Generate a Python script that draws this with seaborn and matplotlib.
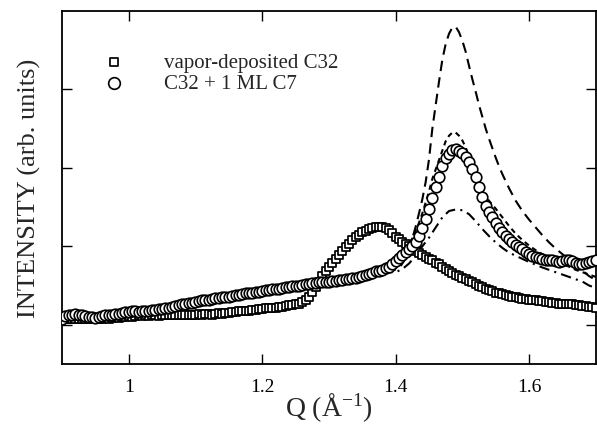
import numpy as np
import pandas as pd
import matplotlib
matplotlib.use("Agg")
import matplotlib.pyplot as plt
import seaborn as sns

# ---------------- data ----------------
q_data = [round(0.900 + 0.005 * i, 3) for i in range(161)]

sq_vals = [
    0.07, 0.08, 0.07, 0.08, 0.08, 0.07, 0.08, 0.07, 0.08, 0.08,
    0.07, 0.08, 0.08, 0.09, 0.08, 0.09, 0.10, 0.09, 0.10, 0.10,
    0.11, 0.10, 0.11, 0.12, 0.11, 0.12, 0.11, 0.12, 0.12, 0.11,
    0.12, 0.13, 0.12, 0.12, 0.13, 0.12, 0.13, 0.13, 0.12, 0.13,
    0.13, 0.14, 0.13, 0.14, 0.14, 0.13, 0.14, 0.15, 0.14, 0.15,
    0.15, 0.16, 0.16, 0.17, 0.17, 0.18, 0.18, 0.19, 0.19, 0.20,
    0.20, 0.21, 0.21, 0.22, 0.22, 0.23, 0.23, 0.24, 0.25, 0.25,
    0.26, 0.27, 0.29, 0.31, 0.36, 0.42, 0.48, 0.55, 0.62, 0.68,
    0.74, 0.79, 0.84, 0.89, 0.94, 0.99, 1.03, 1.08, 1.12, 1.15,
    1.18, 1.20, 1.22, 1.24, 1.25, 1.25, 1.25, 1.23, 1.21, 1.17,
    1.12, 1.09, 1.06, 1.03, 1.00, 0.97, 0.94, 0.92, 0.89, 0.86,
    0.84, 0.82, 0.79, 0.77, 0.74, 0.71, 0.68, 0.66, 0.64, 0.62,
    0.60, 0.58, 0.56, 0.54, 0.52, 0.50, 0.48, 0.46, 0.44, 0.43,
    0.41, 0.40, 0.39, 0.38, 0.37, 0.36, 0.35, 0.34, 0.33, 0.33,
    0.32, 0.32, 0.31, 0.30, 0.30, 0.29, 0.29, 0.28, 0.28, 0.27,
    0.27, 0.27, 0.26, 0.26, 0.25, 0.25, 0.24, 0.24, 0.23, 0.23,
    0.22,
]

circ_vals = [
    0.08, 0.11, 0.12, 0.13, 0.14, 0.13, 0.12, 0.11, 0.10, 0.10,
    0.09, 0.10, 0.11, 0.12, 0.13, 0.13, 0.14, 0.14, 0.15, 0.16,
    0.16, 0.17, 0.17, 0.16, 0.17, 0.18, 0.18, 0.19, 0.19, 0.20,
    0.20, 0.21, 0.22, 0.23, 0.24, 0.25, 0.26, 0.27, 0.28, 0.28,
    0.29, 0.30, 0.31, 0.32, 0.32, 0.33, 0.34, 0.34, 0.35, 0.36,
    0.36, 0.37, 0.38, 0.38, 0.39, 0.40, 0.40, 0.41, 0.42, 0.42,
    0.43, 0.44, 0.44, 0.45, 0.46, 0.46, 0.47, 0.48, 0.48, 0.49,
    0.50, 0.50, 0.51, 0.52, 0.52, 0.53, 0.53, 0.54, 0.54, 0.55,
    0.55, 0.56, 0.56, 0.57, 0.57, 0.58, 0.58, 0.59, 0.60, 0.61,
    0.62, 0.63, 0.65, 0.66, 0.68, 0.69, 0.70, 0.72, 0.74, 0.77,
    0.81, 0.85, 0.89, 0.93, 0.97, 1.01, 1.05, 1.13, 1.24, 1.35,
    1.47, 1.62, 1.76, 1.88, 2.02, 2.12, 2.18, 2.23, 2.24, 2.22,
    2.19, 2.14, 2.07, 1.99, 1.88, 1.76, 1.63, 1.52, 1.44, 1.37,
    1.30, 1.24, 1.18, 1.13, 1.09, 1.05, 1.02, 0.99, 0.96, 0.93,
    0.90, 0.88, 0.86, 0.85, 0.84, 0.83, 0.83, 0.82, 0.81, 0.80,
    0.81, 0.82, 0.83, 0.81, 0.79, 0.77, 0.78, 0.79, 0.80, 0.81,
    0.82,
]

# long-dashed model curve
q_fit_a = [1.385, 1.395, 1.405, 1.410, 1.415, 1.420, 1.425, 1.430, 1.435, 1.440,
           1.445, 1.450, 1.455, 1.460, 1.465, 1.470, 1.475, 1.480, 1.485, 1.490,
           1.495, 1.500, 1.505, 1.510, 1.515, 1.520, 1.525, 1.530, 1.535, 1.540,
           1.545, 1.550, 1.555, 1.560, 1.565, 1.570, 1.575, 1.580, 1.590, 1.600,
           1.610, 1.620, 1.630, 1.640, 1.650, 1.660, 1.670, 1.680, 1.690, 1.700]
fit_a = [0.68, 0.69, 0.72, 0.78, 0.86, 0.96, 1.10, 1.25, 1.42, 1.60,
         1.82, 2.11, 2.50, 2.80, 3.10, 3.38, 3.58, 3.71, 3.79, 3.80,
         3.73, 3.62, 3.48, 3.30, 3.13, 2.97, 2.80, 2.65, 2.50, 2.37,
         2.25, 2.13, 2.02, 1.92, 1.83, 1.74, 1.66, 1.58, 1.45, 1.34,
         1.24, 1.14, 1.05, 0.97, 0.90, 0.83, 0.76, 0.69, 0.62, 0.57]

# short-dashed model curve
q_fit_b = [1.385, 1.395, 1.405, 1.415, 1.425, 1.435, 1.440, 1.445, 1.450, 1.455,
           1.460, 1.465, 1.470, 1.475, 1.480, 1.485, 1.490, 1.495, 1.500, 1.505,
           1.510, 1.515, 1.520, 1.525, 1.530, 1.540, 1.550, 1.560, 1.570, 1.580,
           1.590, 1.600, 1.610, 1.620, 1.630, 1.640, 1.650, 1.660, 1.670, 1.680,
           1.690, 1.700]
fit_b = [0.70, 0.74, 0.84, 0.96, 1.10, 1.30, 1.42, 1.56, 1.70, 1.86,
         1.98, 2.10, 2.22, 2.34, 2.41, 2.45, 2.45, 2.41, 2.35, 2.26,
         2.14, 2.02, 1.91, 1.80, 1.70, 1.58, 1.48, 1.37, 1.26, 1.16,
         1.08, 1.01, 0.95, 0.90, 0.86, 0.82, 0.78, 0.74, 0.70, 0.67,
         0.64, 0.61]

# dash-dot model curve
q_fit_c = [1.380, 1.390, 1.400, 1.410, 1.420, 1.430, 1.440, 1.450, 1.460, 1.470,
           1.480, 1.490, 1.500, 1.510, 1.520, 1.530, 1.540, 1.550, 1.560, 1.570,
           1.580, 1.590, 1.600, 1.620, 1.640, 1.660, 1.680, 1.690, 1.700]
fit_c = [0.69, 0.67, 0.67, 0.71, 0.78, 0.88, 1.00, 1.11, 1.24, 1.37,
         1.45, 1.47, 1.46, 1.41, 1.32, 1.22, 1.13, 1.05, 0.98, 0.92,
         0.88, 0.84, 0.80, 0.73, 0.67, 0.61, 0.55, 0.50, 0.47]

legend_labels = ["vapor-deposited C32", "C32 + 1 ML C7"]
x_ticks = [1.0, 1.2, 1.4, 1.6]
x_tick_labels = ["1", "1.2", "1.4", "1.6"]
y_ticks = [0, 1, 2, 3]

# ---------------- figure ----------------
sns.set_style("ticks")
plt.rcParams["font.family"] = ["Liberation Serif", "DejaVu Serif"]
plt.rcParams["mathtext.fontset"] = "custom"
plt.rcParams["mathtext.rm"] = "Liberation Serif"
plt.rcParams["mathtext.it"] = "Liberation Serif:italic"

fig = plt.figure(figsize=(5.97, 4.27), dpi=100)
ax = fig.add_axes([0.1039, 0.1452, 0.8941, 0.8267])

lw = 1.5
sns.lineplot(x=q_fit_a, y=fit_a, ax=ax, color="black", lw=lw,
             linestyle=(0, (5, 3)), zorder=2, estimator=None, sort=False)
sns.lineplot(x=q_fit_b, y=fit_b, ax=ax, color="black", lw=lw,
             linestyle=(0, (2.5, 2)), zorder=2, estimator=None, sort=False)
sns.lineplot(x=q_fit_c, y=fit_c, ax=ax, color="black", lw=lw,
             linestyle=(0, (5, 2.5, 1, 2.5)), zorder=2, estimator=None, sort=False)

sns.scatterplot(x=q_data, y=sq_vals, ax=ax, marker="s", s=30,
                facecolor="white", edgecolor="black", linewidth=1.25,
                label=legend_labels[0], zorder=3)
sns.scatterplot(x=q_data, y=circ_vals, ax=ax, marker="o", s=58,
                facecolor="white", edgecolor="black", linewidth=1.2,
                label=legend_labels[1], zorder=4)

ax.set_xlim(0.9, 1.7)
ax.set_ylim(-0.5, 4.0)
ax.set_xticks(x_ticks)
ax.set_xticklabels(x_tick_labels)
ax.set_yticks(y_ticks)
ax.set_yticklabels([])
ax.tick_params(direction="in", length=7, width=1.0, top=True, right=True,
               labelsize=14, pad=10, colors="black")
for sp in ax.spines.values():
    sp.set_linewidth(1.3)
    sp.set_color("black")

ax.set_xlabel("Q (Å$^{-1}$)", fontsize=20, labelpad=-3)
ax.set_ylabel("INTENSITY (arb. units)", fontsize=19, labelpad=5)

leg = ax.legend(loc="upper left", bbox_to_anchor=(0.042, 0.905), frameon=False,
                fontsize=15, handletextpad=1.4, labelspacing=0.05,
                borderaxespad=0, markerscale=1.1)

fig.savefig("out.png", dpi=100)
